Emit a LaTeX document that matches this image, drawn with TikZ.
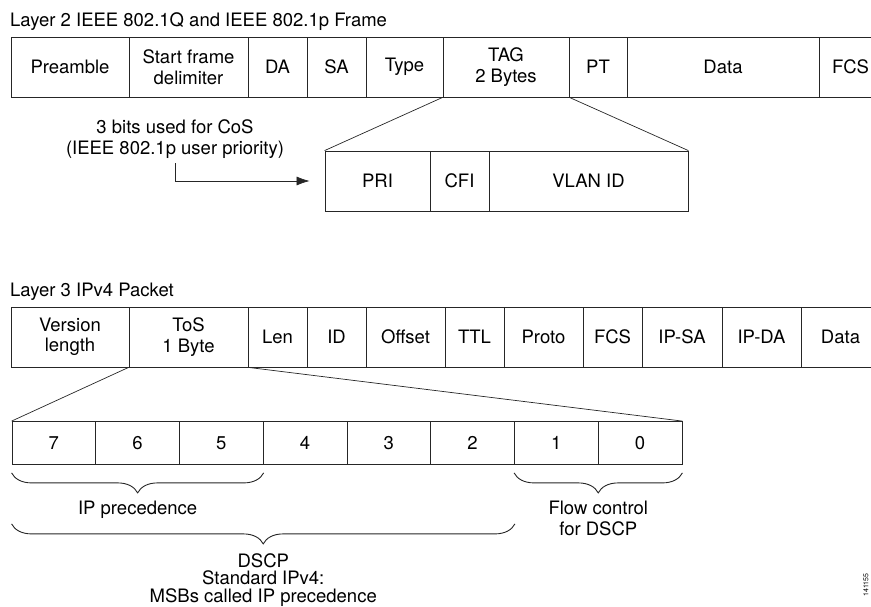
\documentclass[tikz,border=0pt]{standalone}
\usepackage{fontspec}
\setmainfont{TeX Gyre Heros}
\usetikzlibrary{arrows.meta,positioning,decorations.pathreplacing}

\tikzset{
  field/.style={draw=black!85, line width=0.8pt, minimum height=60pt, inner sep=0pt, align=center},
  bitcell/.style={field, minimum height=43pt, minimum width=83.75pt},
  zoomline/.style={draw=black!85, line width=0.7pt},
  fieldbrace/.style={draw=black!85, line width=0.9pt, decorate, decoration={brace, mirror, amplitude=20pt}},
  caption/.style={inner sep=0pt, align=center, anchor=north}
}

\begin{document}
\begin{tikzpicture}[x=1pt, y=-1pt, font=\fontsize{18.5}{20.5}\selectfont]
\useasboundingbox (0,0) rectangle (871,607);

% Layer 2 frame
\node[anchor=base west, inner sep=0pt] (l2title) at (10,26.5) {Layer 2 IEEE 802.1Q and IEEE 802.1p Frame};
\foreach \a/\b/\n/\t in {11/129/pre/Preamble, 129/248/sfd/{Start frame\\delimiter}, 248/307/da/DA, 307/366/sa/SA,
    366/443/type/Type, 443/569/tag/{TAG\\2 Bytes}, 569/627/pt/PT, 627/819/l2data/Data, 819/882/l2fcs/FCS}
  \node[field, minimum width={(\b-\a)*1pt}] (\n) at ({(\a+\b)/2},67) {\t};

% TAG field opened up
\foreach \a/\b/\n/\t in {325/430/pri/PRI, 430/489/cfi/CFI, 489/688/vid/VLAN ID}
  \node[field, minimum width={(\b-\a)*1pt}] (\n) at ({(\a+\b)/2},181) {\t};
\draw[zoomline] (tag.south west) -- (pri.north west);
\draw[zoomline] (tag.south east) -- (vid.north east);

\node[align=center, inner sep=0pt] (cos) at (175,139) {3 bits used for CoS\\(IEEE 802.1p user priority)};
\draw[zoomline, -{Latex[length=13pt,width=9pt]}] ([yshift=-5pt]cos.south) |- ([xshift=-15pt]pri.west);

% Layer 3 packet
\node[anchor=base west, inner sep=0pt] (l3title) at (10,296) {Layer 3 IPv4 Packet};
\foreach \a/\b/\n/\t in {11/129/ver/{Version\\length}, 129/248/tos/{ToS\\1 Byte}, 248/307/len/Len, 307/366/id/ID,
    366/445/off/Offset, 445/504/ttl/TTL, 504/583/proto/Proto, 583/642/ipfcs/FCS, 642/722/ipsa/IP-SA,
    722/801/ipda/IP-DA, 801/880/ipdata/Data}
  \node[field, minimum width={(\b-\a)*1pt}] (\n) at ({(\a+\b)/2},337) {\t};

% ToS byte opened up
\foreach \v [count=\i from 0] in {7,6,5,4,3,2,1,0}
  \node[bitcell] (b\v) at ({53.875+\i*83.75},443) {\v};
\draw[zoomline] (tos.south west) -- (b7.north west);
\draw[zoomline] (tos.south east) -- (b0.north east);

% braces
\draw[fieldbrace] ([yshift=-8pt]b7.south west) -- ([yshift=-8pt]b5.south east)
  node[caption, midway, yshift=-28pt] (ipprec) {IP precedence};
\draw[fieldbrace] ([yshift=-8pt]b1.south west) -- ([yshift=-8pt]b0.south east)
  node[caption, midway, yshift=-28pt] (flow) {Flow control\\for DSCP};
\draw[fieldbrace] ([yshift=-59pt]b7.south west) -- ([yshift=-59pt]b2.south east)
  node[caption, midway, yshift=-29pt, font=\fontsize{18.5}{17.5}\selectfont] (dscp) {DSCP\\Standard IPv4:\\MSBs called IP precedence};

\node[rotate=90, font=\fontsize{7}{8}\selectfont, inner sep=0pt] (figid) at (866,585) {141155};
\end{tikzpicture}
\end{document}
